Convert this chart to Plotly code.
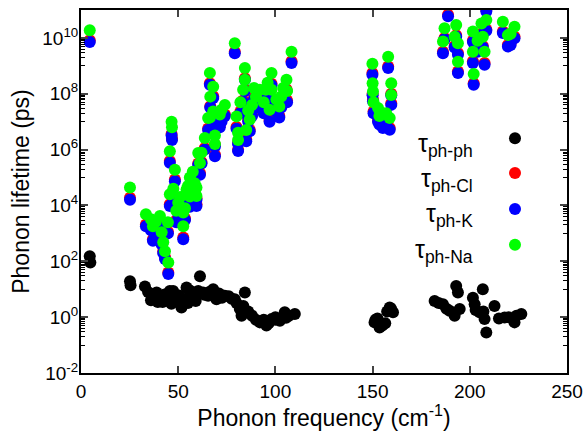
import plotly.graph_objects as go

# ---- data ----
freq_ph = [4.5, 4.8, 25.2, 25.5, 32.9, 37.2, 38.9, 40.6, 44.0, 45.7, 47.4, 49.0, 51.7, 54.3,
           57.7, 60.3, 61.2, 62.8, 65.4, 68.0, 69.7, 74.0, 79.1, 80.0, 81.7, 82.6, 84.3, 86.0,
           88.0, 92.0, 94.0, 95.4, 98.0, 100.0, 102.3, 104.8, 107.0, 110.0, 151.0, 151.5,
           153.6, 155.0, 158.8, 160.5, 181.9, 184.0, 186.2, 188.0, 189.6, 192.2, 193.0, 193.9,
           194.8, 201.6, 202.5, 203.0, 205.0, 206.7, 207.6, 208.5, 207.0, 212.7, 215.0, 217.9,
           220.0, 223.0, 224.0, 226.5, 36.0, 42.0, 55.0, 66.0, 71.0, 76.0, 100.0,
           34.5, 39.5, 43.0, 46.5, 50.5, 53.0, 56.0, 59.0, 63.5, 67.0, 72.5, 77.5, 83.5, 90.0,
           96.5, 105.5, 152.5, 154.5, 156.5, 157.5, 159.5]
tau_ph_ph = [151, 91, 19.5, 14, 12.6, 5.8, 7.6, 4.4, 5.8, 8.7, 8.7, 4.0, 2.2, 11.5,
             5.8, 8.7, 29, 7.6, 5.8, 10, 4.4, 5.8, 4.4, 3.2, 1.95, 1.12, 7.6, 1.6,
             1.12, 0.65, 0.8, 0.5, 0.85, 0.8, 0.74, 1.5, 1.12, 1.3, 0.65, 0.8,
             0.43, 0.5, 2.2, 1.5, 3.8, 3.2, 2.9, 2.0, 1.7, 1.12, 13, 7.6,
             1.95, 5.0, 2.9, 1.8, 1.5, 10, 0.85, 0.28, 1.6, 2.5, 0.9, 0.98,
             1.0, 0.65, 1.12, 1.3, 4.0, 3.5, 3.2, 7.9, 7.1, 5.6, 1.0,
             8.0, 3.5, 6.5, 3.0, 6.0, 4.5, 9.0, 3.8, 6.3, 8.5, 5.0, 4.6, 2.5, 0.8,
             0.6, 0.95, 0.9, 0.55, 0.6, 1.6, 2.0]

freq_imp = [4.5, 25.2, 33.4, 37.0, 40.6, 41.5, 42.3, 43.2, 44.9, 44.7, 45.7, 45.7, 46.6, 46.8,
            48.3, 50.0, 52.6, 52.6, 54.3, 56.0, 56.0, 59.4, 59.4, 60.3, 61.2, 62.0, 63.7, 65.4,
            66.3, 66.3, 66.5, 68.0, 68.9, 68.9, 68.0, 71.4, 72.3, 79.1, 80.0, 80.8, 80.8, 83.4,
            84.3, 84.3, 86.8, 85.0, 92.0, 98.0, 97.0, 98.0, 100.5, 102.0, 104.0, 105.7, 108.3,
            88.0, 90.0, 94.0, 149.9, 150.0, 150.2, 150.5, 158.0, 159.6, 159.6, 152.8, 155.3,
            158.8, 153.5, 157.0, 188.8, 187.0, 186.2, 193.0, 192.2, 193.9, 193.9, 201.6, 201.6,
            202.0, 208.5, 206.0, 208.5, 206.7, 207.6, 217.0, 223.0, 219.6, 221.0, 204.0,
            47.5, 49.0, 51.0, 53.5, 55.0, 57.5, 58.5, 38.5, 36.0, 74.0, 82.0, 86.0, 89.0,
            95.0, 96.0, 103.0, 106.0]
tau_ph_K = [7.2e9, 1.6e4, 1.8e3, 5.4e2, 1.6e3, 4.0e2, 2.0e2, 1.2e2, 35, 1.0e3, 9.5e3, 3.4e5, 3.2e6, 2.2e6,
            7.4e4, 5.0e3, 2.2e3, 6.2e2, 1.4e4, 4.0e4, 8.9e3, 1.6e4, 9.5e3, 2.8e5, 1.26e5, 3.2e5, 1.0e6, 5.0e6,
            5.0e6, 2.1e8, 3.2e7, 8.9e6, 5.8e5, 1.3e6, 7.1e7, 6.3e6, 1.0e7, 2.8e9, 5.6e6, 1.6e6, 8.9e5, 5.0e7,
            3.2e8, 1.26e8, 4.5e6, 2.0e6, 5.0e7, 2.0e8, 1.0e7, 5.0e7, 2.2e7, 1.4e7, 5.6e7, 1.26e8, 1.26e9,
            1.6e7, 3.2e7, 2.0e7, 4.8e8, 8.9e7, 5.4e7, 2.0e7, 8.3e8, 8.9e7, 4.0e7, 1.0e7, 5.9e6,
            5.1e6, 7.9e6, 7.9e6, 6.0e10, 8.9e9, 2.8e9, 1.1e10, 4.5e9, 2.5e9, 5.5e8, 7.1e9, 1.26e9,
            2.1e8, 8.9e10, 1.26e10, 1.8e10, 4.5e9, 1.1e9, 1.5e10, 9.8e9, 4.9e9, 5.6e9, 3.2e9,
            1.5e4, 2.5e3, 8.0e3, 3.0e3, 2.0e4, 6.0e4, 2.5e4, 1.0e3, 1.3e3, 1.6e7, 2.0e7, 1.0e7, 6.3e7,
            5.6e7, 1.0e8, 3.2e7, 5.0e7]
tau_ph_Cl = [8.3e9, 1.9e4, 2.1e3, 6.2e2, 1.8e3, 4.6e2, 2.3e2, 1.4e2, 40, 1.15e3, 1.1e4, 3.9e5, 3.6e6, 2.5e6,
             8.5e4, 5.8e3, 2.6e3, 7.1e2, 1.6e4, 4.6e4, 1.0e4, 1.8e4, 1.1e4, 3.2e5, 1.45e5, 3.6e5, 1.15e6, 5.7e6,
             5.7e6, 2.4e8, 3.6e7, 1.0e7, 6.6e5, 1.5e6, 8.1e7, 7.2e6, 1.15e7, 3.2e9, 6.4e6, 1.8e6, 1.0e6, 5.7e7,
             3.6e8, 1.45e8, 5.1e6, 2.3e6, 5.7e7, 2.3e8, 1.15e7, 5.7e7, 2.5e7, 1.6e7, 6.4e7, 1.45e8, 1.45e9,
             1.8e7, 3.6e7, 2.3e7, 5.5e8, 1.0e8, 6.2e7, 2.3e7, 9.5e8, 1.0e8, 4.6e7, 1.15e7, 6.7e6,
             5.9e6, 9.0e6, 9.0e6, 6.8e10, 1.0e10, 3.2e9, 1.26e10, 5.1e9, 2.9e9, 6.3e8, 8.1e9, 1.45e9,
             2.4e8, 1.0e11, 1.45e10, 2.0e10, 5.1e9, 1.26e9, 1.7e10, 1.1e10, 5.6e9, 6.4e9, 3.6e9,
             1.7e4, 2.9e3, 9.2e3, 3.4e3, 2.3e4, 6.9e4, 2.9e4, 1.15e3, 1.5e3, 1.8e7, 2.3e7, 1.15e7, 7.2e7,
             6.4e7, 1.15e8, 3.6e7, 5.7e7]
tau_ph_Na = [1.9e10, 4.4e4, 4.8e3, 1.8e3, 4.2e3, 1.1e3, 4.8e2, 2.3e2, 91, 2.5e3, 2.5e4, 8.7e5, 1.0e7, 6.3e6,
             1.9e5, 1.26e4, 5.6e3, 1.8e3, 3.7e4, 1.0e5, 2.1e4, 4.4e4, 2.2e4, 7.6e5, 3.3e5, 7.8e5, 2.6e6, 1.35e7,
             1.4e7, 5.6e8, 7.9e7, 2.3e7, 1.6e6, 3.2e6, 1.8e8, 1.8e7, 2.7e7, 6.5e9, 1.55e7, 4.0e6, 2.2e6, 1.4e8,
             8.3e8, 3.2e8, 1.2e7, 5.0e6, 1.4e8, 5.5e8, 2.7e7, 1.4e8, 6.2e7, 3.5e7, 1.6e8, 3.2e8, 3.2e9,
             4.0e7, 7.9e7, 5.0e7, 1.2e9, 2.4e8, 1.2e8, 5.0e7, 2.1e9, 2.4e8, 9.1e7, 3.1e7, 2.0e7,
             1.35e7, 1.6e7, 2.0e7, 1.6e11, 2.2e10, 7.4e9, 2.9e10, 1.1e10, 6.5e9, 1.4e9, 1.7e10, 3.2e9,
             5.1e8, 2.2e11, 3.3e10, 4.4e10, 1.1e10, 3.2e9, 3.8e10, 2.5e10, 1.26e10, 1.4e10, 7.9e9,
             4.0e4, 6.5e3, 2.0e4, 8.0e3, 5.0e4, 1.6e5, 6.3e4, 2.6e3, 3.2e3, 4.0e7, 5.0e7, 2.5e7, 1.6e8,
             1.4e8, 2.5e8, 8.0e7, 1.26e8]

series_names = ["τ<sub>ph-ph</sub>", "τ<sub>ph-Cl</sub>", "τ<sub>ph-K</sub>", "τ<sub>ph-Na</sub>"]
series_colors = ["#000000", "#ff0000", "#0000ff", "#00ff00"]

y_tick_vals = [1e-2, 1e0, 1e2, 1e4, 1e6, 1e8, 1e10]
y_tick_text = ["10<sup>-2</sup>", "10<sup>0</sup>", "10<sup>2</sup>", "10<sup>4</sup>",
               "10<sup>6</sup>", "10<sup>8</sup>", "10<sup>10</sup>"]
x_tick_vals = [0, 50, 100, 150, 200, 250]

FONT = "Liberation Sans, Arial, sans-serif"

fig = go.Figure()
xs = [freq_ph, freq_imp, freq_imp, freq_imp]
ys = [tau_ph_ph, tau_ph_Cl, tau_ph_K, tau_ph_Na]
for name, col, x, y in zip(series_names, series_colors, xs, ys):
    fig.add_trace(go.Scatter(x=x, y=y, mode="markers", name=name,
                             marker=dict(size=12, color=col, line=dict(width=0)),
                             showlegend=False))

# legend drawn by hand: right-aligned labels with a dot on the right
leg_y = [0.647, 0.551, 0.452, 0.353]
for name, col, yy in zip(series_names, series_colors, leg_y):
    fig.add_annotation(x=0.810, y=yy - 0.018, xref="paper", yref="paper", text=name,
                       showarrow=False, xanchor="right", yanchor="middle",
                       font=dict(family=FONT, size=25, color="black"))
    fig.add_shape(type="circle", xref="paper", yref="paper", xsizemode="pixel", ysizemode="pixel",
                  xanchor=0.893, yanchor=yy, x0=-6, x1=6, y0=-6, y1=6,
                  fillcolor=col, line=dict(width=0))

minor_vals = [k * 10.0 ** e for e in [-1, 1, 3, 5, 7, 9] for k in range(1, 10)]

fig.update_layout(
    width=587, height=431,
    margin=dict(l=81, r=20, t=10, b=58),
    plot_bgcolor="white", paper_bgcolor="white",
    font=dict(family=FONT, size=19, color="black"),
    showlegend=False,
    xaxis=dict(range=[0, 250], tickvals=x_tick_vals, ticks="inside", ticklen=7, tickwidth=1.5,
               showline=True, linecolor="black", linewidth=2, mirror="ticks",
               showgrid=False, zeroline=False, automargin=False,
               title=dict(text="Phonon frequency (cm<sup>-1</sup>)", font=dict(size=23), standoff=2),
               tickfont=dict(size=19)),
    yaxis=dict(type="log", range=[-2, 11], tickvals=y_tick_vals, ticktext=y_tick_text,
               ticks="inside", ticklen=7, tickwidth=1.5, ticklabelstandoff=-3,
               minor=dict(tickvals=minor_vals, ticks="inside", ticklen=4, tickwidth=1, tickcolor="black"),
               showline=True, linecolor="black", linewidth=2, mirror="ticks",
               showgrid=False, zeroline=False, automargin=False,
               title=dict(text="Phonon lifetime (ps)", font=dict(size=23), standoff=6),
               tickfont=dict(size=19)),
)

fig.write_html("out.html", config={"displayModeBar": False},
               post_script="document.body.style.margin='0px';document.body.style.padding='0px';")
